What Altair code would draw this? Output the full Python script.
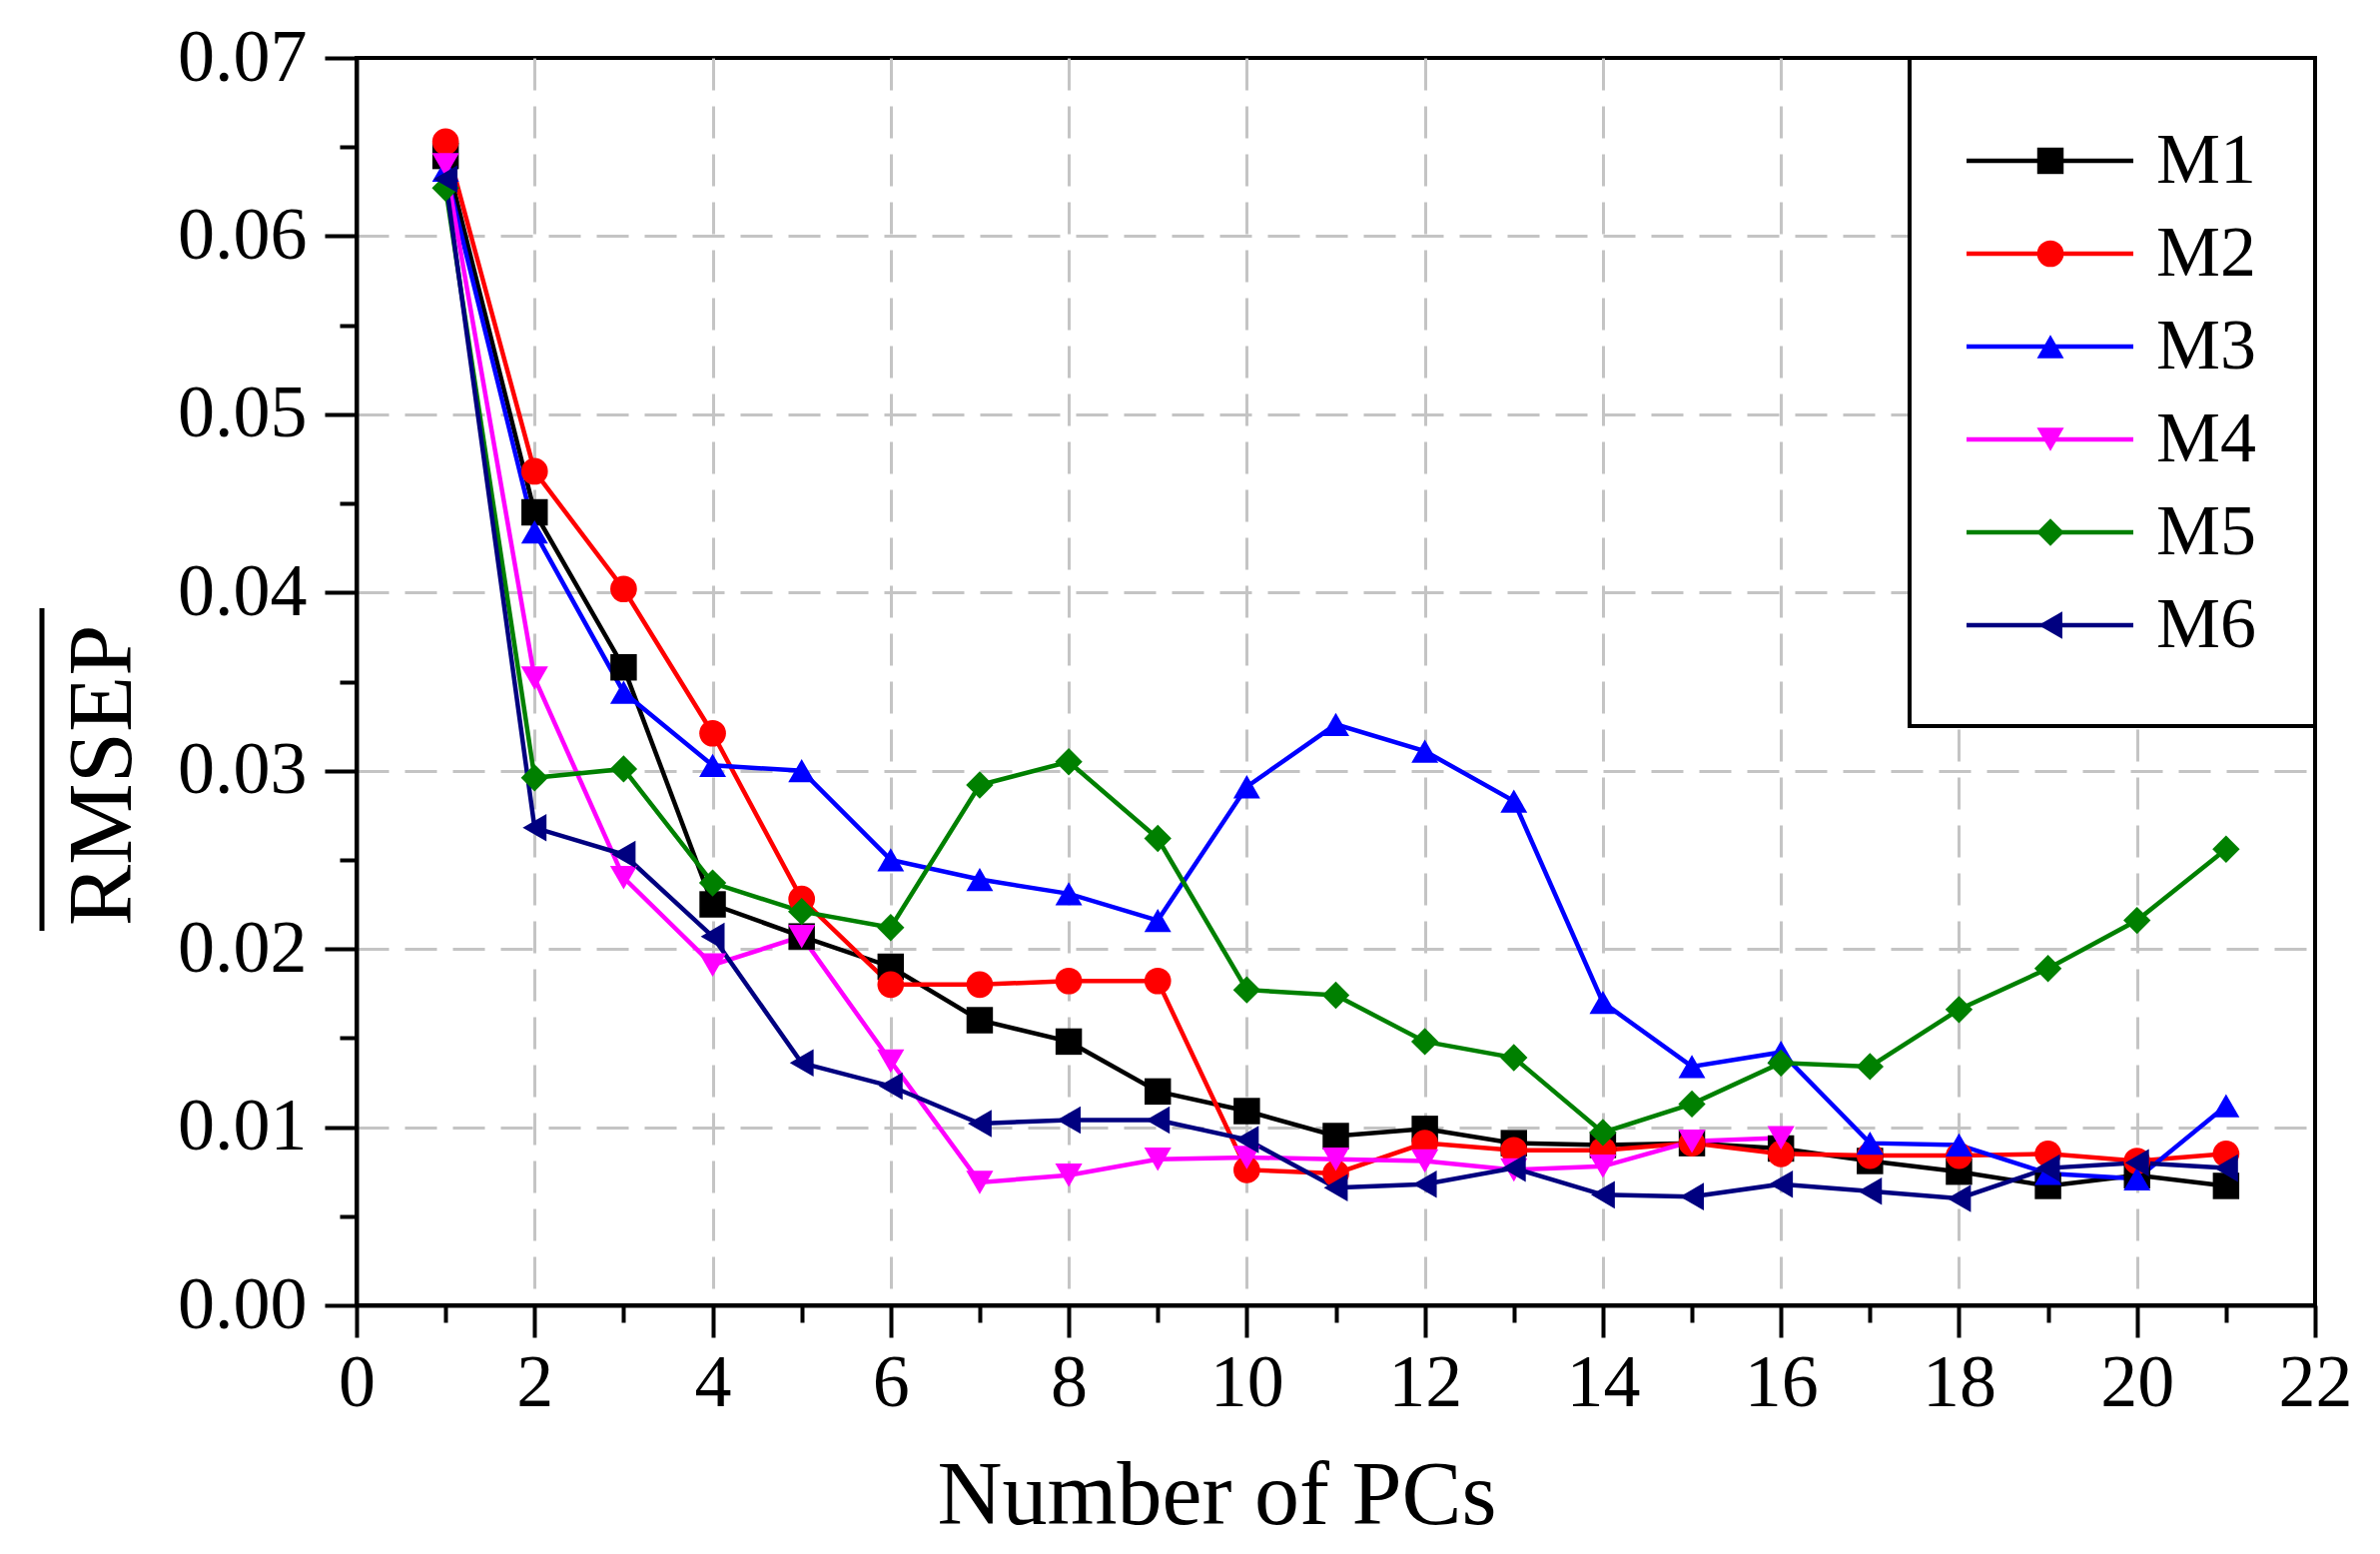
import altair as alt
import pandas as pd

pcs = list(range(1, 22))
series = ["M1", "M2", "M3", "M4", "M5", "M6"]
m1 = [0.0645, 0.0445, 0.0358, 0.0225, 0.0207, 0.0190, 0.0160, 0.0148, 0.0120, 0.0109, 0.0095,
      0.0099, 0.0091, 0.0090, 0.0091, 0.0088, 0.0081, 0.0075, 0.0067, 0.0073, 0.0067]
m2 = [0.0653, 0.0468, 0.0402, 0.0321, 0.0228, 0.0180, 0.0180, 0.0182, 0.0182, 0.0076, 0.0074,
      0.0091, 0.0087, 0.0087, 0.0091, 0.0085, 0.0084, 0.0084, 0.0085, 0.0081, 0.0085]
m3 = [0.0637, 0.0434, 0.0344, 0.0303, 0.0300, 0.0250, 0.0239, 0.0231, 0.0216, 0.0291, 0.0326,
      0.0311, 0.0283, 0.0170, 0.0134, 0.0142, 0.0091, 0.0090, 0.0074, 0.0071, 0.0112]
m4 = [0.0640, 0.0352, 0.0240, 0.0191, 0.0207, 0.0137, 0.0069, 0.0073, 0.0082, 0.0083, 0.0082,
      0.0081, 0.0076, 0.0078, 0.0092, 0.0094]
m5 = [0.0627, 0.0296, 0.0301, 0.0237, 0.0221, 0.0212, 0.0292, 0.0305, 0.0262, 0.0177, 0.0174,
      0.0148, 0.0139, 0.0097, 0.0113, 0.0136, 0.0134, 0.0166, 0.0189, 0.0216, 0.0256]
m6 = [0.0632, 0.0268, 0.0253, 0.0207, 0.0136, 0.0123, 0.0102, 0.0104, 0.0104, 0.0093, 0.0066,
      0.0068, 0.0077, 0.0062, 0.0061, 0.0068, 0.0064, 0.0060, 0.0077, 0.0080, 0.0077]

x_ticks = list(range(0, 23))
y_ticks = [round(i * 0.005, 3) for i in range(0, 15)]

colors = ["#000000", "#ff0000", "#0000ff", "#ff00ff", "#008000", "#000080"]
shapes = ["square", "circle", "triangle-up", "triangle-down", "diamond", "triangle-left"]
msizes = [700, 760, 1000, 1000, 1000, 1000]

rows = []
for name, vals in zip(series, [m1, m2, m3, m4, m5, m6]):
    for pc, v in zip(pcs, vals):
        rows.append({"pc": pc, "rmsep": v, "series": name})
df = pd.DataFrame(rows)

FONT = "Liberation Serif"
LW = 4.5

color = alt.Color("series:N", scale=alt.Scale(domain=series, range=colors), legend=None)
shape = alt.Shape("series:N", scale=alt.Scale(domain=series, range=shapes), legend=None)
size = alt.Size("series:N", scale=alt.Scale(domain=series, range=msizes), legend=None)

x_axis = alt.Axis(
    values=x_ticks,
    title="Number of PCs",
    titleFont=FONT, titleFontSize=90, titleFontWeight="normal", titleColor="black",
    titleX=861, titleY=218, titleBaseline="alphabetic", titleAlign="center",
    labelFont=FONT, labelFontSize=74, labelColor="black", labelPadding=10,
    labelExpr="datum.value % 2 === 0 ? datum.label : ''",
    labelFlush=False, labelOverlap=False,
    tickColor="black", tickWidth=4,
    tickSize={"condition": {"test": "datum.value % 2 === 1", "value": 17}, "value": 32},
    domainColor="black", domainWidth=4,
    grid=True, gridColor="#c4c4c4", gridWidth=3, gridDash=[32, 16],
    gridOpacity={"condition": {"test": "datum.value % 2 === 1 || datum.value === 0 || datum.value === 22",
                               "value": 0}, "value": 1},
)

y_axis = alt.Axis(
    values=y_ticks,
    title="RMSEP",
    titleFont=FONT, titleFontSize=92, titleFontWeight="normal", titleColor="black",
    titleX=-227, titleY=718, titleBaseline="alphabetic", titleAlign="center", titleAngle=270,
    labelFont=FONT, labelFontSize=74, labelColor="black", labelPadding=18,
    labelExpr="round(datum.value * 1000) % 10 === 0 ? format(datum.value, '.2f') : ''",
    labelFlush=False, labelOverlap=False,
    tickColor="black", tickWidth=4,
    tickSize={"condition": {"test": "round(datum.value * 1000) % 10 !== 0", "value": 17}, "value": 32},
    domainColor="black", domainWidth=4,
    grid=True, gridColor="#c4c4c4", gridWidth=3, gridDash=[32, 16],
    gridOpacity={"condition": {"test": "round(datum.value * 1000) % 10 !== 0 || datum.value === 0 || datum.value > 0.069",
                               "value": 0}, "value": 1},
)

x = alt.X("pc:Q", scale=alt.Scale(domain=[0, 22], nice=False, zero=False), axis=x_axis)
y = alt.Y("rmsep:Q", scale=alt.Scale(domain=[0, 0.07], nice=False, zero=False), axis=y_axis)

base = alt.Chart(df)
lines = base.mark_line(strokeWidth=LW).encode(x=x, y=y, color=color, detail="series:N")
points = base.mark_point(filled=True, opacity=1).encode(x=x, y=y, color=color, shape=shape, size=size)
main = alt.layer(lines, points)

# legend drawn inside the plot (top-right box), plus the overline of the y title
legend_df = pd.DataFrame({"series": series, "idx": list(range(len(series)))})
ly = alt.Y("idx:Q", scale=alt.Scale(domain=[0, len(series) - 1], range=[103, 568], nice=False, zero=False),
           axis=None)
one = alt.Chart(pd.DataFrame({"k": [0]}))
box = one.mark_rect(fill="white", stroke="black", strokeWidth=4).encode(
    x=alt.value(1555), x2=alt.value(1961), y=alt.value(0), y2=alt.value(669))
overline = one.mark_rule(strokeWidth=5, color="black").encode(
    x=alt.value(-315), y=alt.value(551), y2=alt.value(874))
lrule = alt.Chart(legend_df).mark_rule(strokeWidth=LW).encode(
    x=alt.value(1612), x2=alt.value(1779), y=ly, color=color)
lpts = alt.Chart(legend_df).mark_point(filled=True, opacity=1).encode(
    x=alt.value(1696), y=ly, color=color, shape=shape, size=size)
ltext = alt.Chart(legend_df).mark_text(
    align="left", baseline="middle", font=FONT, fontSize=72, color="black"
).encode(x=alt.value(1802), y=ly, text="series:N")
legend = alt.layer(box, overline, lrule, lpts, ltext)

chart = alt.layer(main, legend).resolve_scale(y="independent").properties(
    width=1961, height=1249,
    autosize=alt.AutoSizeParams(type="none"),
    padding={"left": 349, "top": 50, "right": 57, "bottom": 241},
    background="white",
).configure_view(stroke="black", strokeWidth=4)

chart.save("out.html", embed_options={"renderer": "svg", "actions": False})
